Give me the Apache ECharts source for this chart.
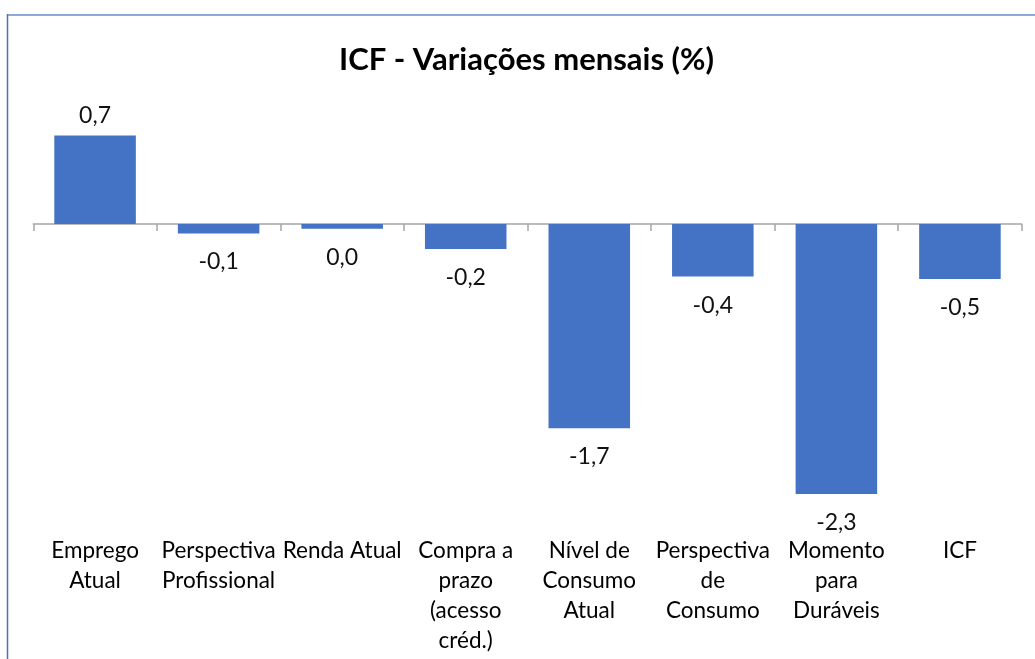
<!DOCTYPE html>
<html>
<head>
<meta charset="utf-8">
<title>ICF - Variações mensais</title>
<script src="https://cdn.jsdelivr.net/npm/echarts@6/dist/echarts.min.js"></script>
<style>
  html, body { margin: 0; padding: 0; background: #fff; }
  #chart-container { width: 1035px; height: 659px; }
</style>
</head>
<body>
<div id="chart-container"></div>
<script>
// Categories (line breaks as in the original axis labels)
const categories = [
  'Emprego\nAtual',
  'Perspectiva\nProfissional',
  'Renda Atual',
  'Compra a\nprazo\n(acesso\ncréd.)',
  'Nível de\nConsumo\nAtual',
  'Perspectiva\nde\nConsumo',
  'Momento\npara\nDuráveis',
  'ICF'
];

// Monthly variation (%)
const variations = [0.74, -0.08, -0.04, -0.21, -1.71, -0.44, -2.26, -0.46];

const FONT = 'Lato, "Open Sans", sans-serif';

// portuguese style number: one decimal, comma
function fmt(v) {
  let s = v.toFixed(1);
  if (s === '-0.0') s = '0.0';
  return s.replace('.', ',');
}

const chartContainer = document.getElementById('chart-container');
const myChart = echarts.init(chartContainer);

myChart.setOption({
  animation: false,
  textStyle: { fontFamily: FONT },
  title: {
    text: 'ICF - Variações mensais (%)',
    left: 339,
    top: 44,
    padding: 0,
    textStyle: { fontFamily: FONT, fontWeight: 'bold', fontSize: 31, color: '#000' }
  },
  grid: {
    left: 33.3,
    right: 13.3,
    top: 104.5,
    bottom: 136.25,
    containLabel: false
  },
  xAxis: [
    {
      // labels only, kept at the bottom
      type: 'category',
      data: categories,
      position: 'bottom',
      axisLine: { show: false, onZero: false },
      axisTick: { show: false },
      axisLabel: {
        interval: 0,
        margin: 13,
        fontSize: 22.5,
        lineHeight: 30,
        color: '#000',
        fontFamily: FONT
      }
    },
    {
      // the zero line with boundary ticks
      type: 'category',
      data: categories,
      position: 'bottom',
      axisLine: { show: true, onZero: true, lineStyle: { color: '#a6a6a6', width: 1.5 } },
      axisTick: { show: true, length: 7, lineStyle: { color: '#a6a6a6', width: 1.5 } },
      axisLabel: { show: false }
    }
  ],
  yAxis: {
    type: 'value',
    min: -2.5,
    max: 1,
    show: false,
    splitLine: { show: false }
  },
  series: [
    {
      type: 'bar',
      xAxisIndex: 0,
      barCategoryGap: '34%',
      itemStyle: { color: '#4472c4' },
      data: variations.map(v => ({
        value: v,
        label: {
          position: v >= 0 ? 'top' : 'bottom',
          distance: v >= 0 ? 8.5 : 17
        }
      })),
      label: {
        show: true,
        fontSize: 23,
        color: '#111',
        fontFamily: FONT,
        formatter: (p) => fmt(p.value)
      }
    }
  ],
  graphic: [
    {
      type: 'line',
      shape: { x1: 7, y1: 15, x2: 1035, y2: 15 },
      style: { stroke: '#8eaadb', lineWidth: 2 }
    },
    {
      type: 'line',
      shape: { x1: 7.5, y1: 14, x2: 7.5, y2: 659 },
      style: { stroke: '#4472c4', lineWidth: 1.5 }
    }
  ]
});
</script>
</body>
</html>
